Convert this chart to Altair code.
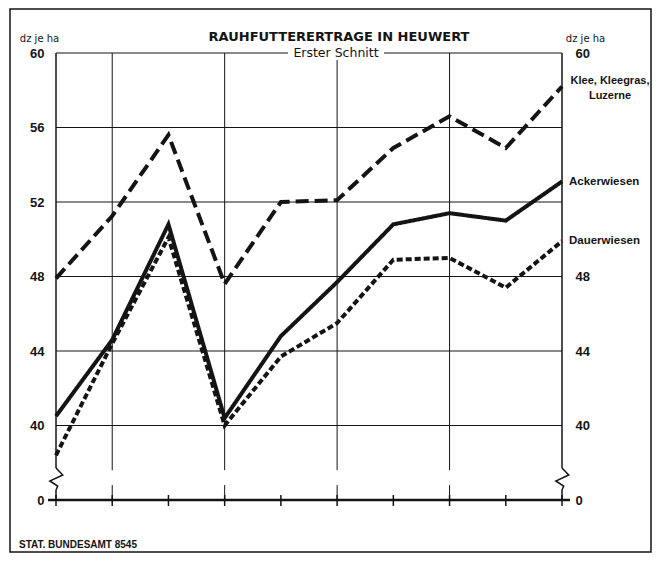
import altair as alt
import pandas as pd

# ---------------- data ----------------
years = [1959, 1960, 1961, 1962, 1963, 1964, 1965, 1966, 1967, 1968]
klee = [47.9, 51.25, 55.6, 47.6, 52.0, 52.1, 54.9, 56.6, 54.9, 58.2]
acker = [40.5, 44.6, 50.8, 40.4, 44.8, 47.7, 50.8, 51.4, 51.0, 53.1]
dauer = [38.4, 44.4, 50.1, 40.0, 43.7, 45.5, 48.9, 49.0, 47.4, 49.9]
series_names = ["Klee, Kleegras, Luzerne", "Ackerwiesen", "Dauerwiesen"]
label_texts = ["Klee, Kleegras,\nLuzerne", "Ackerwiesen", "Dauerwiesen"]

y_ticks_left = [36, 40, 44, 48, 52, 56, 60]   # 36 is the broken-axis "0"
y_ticks_right = [36, 40, 44, 48, 60]
grid_y = [40, 44, 48, 52, 56, 60]
grid_x = [1960, 1962, 1964, 1966]
edge_x = [1959, 1968]

title_text = "RAUHFUTTERERTRAGE IN HEUWERT"
subtitle_text = "Erster Schnitt"
unit_text = "dz je ha"
source_text = "STAT. BUNDESAMT 8545"

# axis-break geometry (decoration)
GAP_TOP, GAP_BOT = 37.6, 36.8
ZIG_DX = [0.0, 0.12, -0.11, 0.03, 0.0]
ZIG_Y = [37.72, 37.34, 37.02, 36.75, 36.54]

# ---------------- styling ----------------
W, H = 506, 447
SANS = "Liberation Sans, Arial, sans-serif"
WIDE = "DejaVu Sans, Verdana, sans-serif"
INK = "#141414"

yscale = alt.Scale(domain=[36, 60], nice=False, zero=False)
xscale = alt.Scale(domain=[1959, 1968], nice=False, zero=False)
zero_expr = "datum.value == 36 ? '0' : datum.label"

left_axis = alt.Axis(
    orient="left", values=y_ticks_left, labelExpr=zero_expr, domain=False, ticks=False,
    grid=False, labelFont=SANS, labelFontSize=13, labelFontWeight="bold",
    labelColor=INK, labelPadding=12, labelOverlap=False, labelFlush=False,
    title=unit_text, titleAngle=0, titleX=-17, titleY=-15, titleAlign="center",
    titleBaseline="middle", titleFont=WIDE, titleFontSize=10,
    titleFontWeight="normal", titleColor=INK,
)
right_axis = alt.Axis(
    orient="right", values=y_ticks_right, labelExpr=zero_expr, domain=False, ticks=False,
    grid=False, labelFont=SANS, labelFontSize=13, labelFontWeight="bold",
    labelColor=INK, labelPadding=13, labelOverlap=False, labelFlush=False,
    labelAlign="left",
    title=unit_text, titleAngle=0, titleX=23, titleY=-15, titleAlign="center",
    titleBaseline="middle", titleFont=WIDE, titleFontSize=10,
    titleFontWeight="normal", titleColor=INK,
)
x_axis = alt.Axis(
    values=years,
    labelExpr="datum.value == 1959 ? '1959' : substring(toString(datum.value), 2)",
    domain=False, ticks=False, grid=False, labelFont=SANS, labelFontSize=14,
    labelFontWeight="bold", labelColor=INK, labelPadding=12, labelOverlap=False,
    labelFlush=False, title=None,
)

# ---------------- tables ----------------
long = pd.DataFrame({
    "year": years * 3,
    "value": klee + acker + dauer,
    "series": [series_names[0]] * len(years) + [series_names[1]] * len(years)
    + [series_names[2]] * len(years),
})

vg_rows = []
for yr in grid_x:
    vg_rows.append({"year": yr, "y1": GAP_TOP, "y2": 60})
    vg_rows.append({"year": yr, "y1": 36, "y2": GAP_BOT})
vgrid_df = pd.DataFrame(vg_rows)

edge_rows = []
for yr in edge_x:
    edge_rows.append({"year": yr, "y1": ZIG_Y[0], "y2": 60})
    edge_rows.append({"year": yr, "y1": 36, "y2": ZIG_Y[-1]})
edge_df = pd.DataFrame(edge_rows)

zig_rows = []
for yr in edge_x:
    for i, (dx, yv) in enumerate(zip(ZIG_DX, ZIG_Y)):
        zig_rows.append({"side": str(yr), "i": i, "x": yr + dx, "y": yv})
zig_df = pd.DataFrame(zig_rows)

last_vals = [klee[-1], acker[-1], dauer[-1]]
lab_df = pd.DataFrame({"series": series_names, "text": label_texts, "value": last_vals})
one = pd.DataFrame({"k": [0]})

# ---------------- layers ----------------
hgrid = alt.Chart(pd.DataFrame({"v": grid_y})).mark_rule(color=INK, strokeWidth=1).encode(
    y=alt.Y("v:Q", scale=yscale, axis=left_axis),
    x=alt.value(0), x2=alt.value(W),
)

vgrid = alt.Chart(vgrid_df).mark_rule(color=INK, strokeWidth=1).encode(
    x=alt.X("year:Q", scale=xscale, axis=None),
    y=alt.Y("y1:Q", scale=yscale, axis=None), y2="y2:Q",
)

edges = alt.Chart(edge_df).mark_rule(color=INK, strokeWidth=1.5).encode(
    x=alt.X("year:Q", scale=xscale, axis=None),
    y=alt.Y("y1:Q", scale=yscale, axis=None), y2="y2:Q",
)

zig = alt.Chart(zig_df).mark_line(color=INK, strokeWidth=1.5, strokeJoin="miter").encode(
    x=alt.X("x:Q", scale=xscale, axis=None),
    y=alt.Y("y:Q", scale=yscale, axis=None),
    detail="side:N", order="i:Q",
)

bottom = alt.Chart(one).mark_rule(color=INK, strokeWidth=2.5).encode(
    x=alt.value(-8), x2=alt.value(W + 8), y=alt.value(H),
)

xticks = alt.Chart(pd.DataFrame({"year": years})).mark_rule(color=INK, strokeWidth=1.5).encode(
    x=alt.X("year:Q", scale=xscale, axis=x_axis),
    y=alt.value(H - 5), y2=alt.value(H + 6),
)

lines = alt.Chart(long).mark_line(
    color=INK, strokeWidth=4, strokeCap="butt", strokeJoin="miter"
).encode(
    x=alt.X("year:Q", scale=xscale, axis=None),
    y=alt.Y("value:Q", scale=yscale, axis=None),
    strokeDash=alt.StrokeDash(
        "series:N",
        scale=alt.Scale(domain=series_names, range=[[13, 6], [1, 0], [6, 3]]),
        legend=None,
    ),
    detail="series:N",
)

labels_main = alt.Chart(lab_df[lab_df["series"] != series_names[0]]).mark_text(
    align="left", baseline="middle", font=SANS, fontSize=11.5, fontWeight="bold", color=INK,
).encode(
    x=alt.value(W + 7),
    y=alt.Y("value:Q", scale=yscale, axis=right_axis),
    text="text:N",
)

labels_klee = alt.Chart(lab_df[lab_df["series"] == series_names[0]]).mark_text(
    align="center", baseline="middle", font=SANS, fontSize=11, fontWeight="bold",
    color=INK, lineBreak="\n", lineHeight=15, dy=-6,
).encode(
    x=alt.value(W + 48),
    y=alt.Y("value:Q", scale=yscale, axis=None),
    text="text:N",
)

sub_bg = alt.Chart(one).mark_rect(fill="white", stroke=None).encode(
    x=alt.value(232), x2=alt.value(328), y=alt.value(-7), y2=alt.value(7),
)
sub_txt = alt.Chart(one).mark_text(
    font=WIDE, fontSize=12.5, color=INK, align="center", baseline="middle", text=subtitle_text,
).encode(x=alt.value(280), y=alt.value(0))

title = alt.Chart(one).mark_text(
    font=WIDE, fontSize=13, fontWeight="bold", color=INK, align="center",
    baseline="middle", text=title_text,
).encode(x=alt.value(283), y=alt.value(-16))

source = alt.Chart(one).mark_text(
    font=SANS, fontSize=10, fontWeight="bold", color=INK, align="left",
    baseline="middle", text=source_text,
).encode(x=alt.value(-37), y=alt.value(492))

frame = alt.Chart(one).mark_rect(fill=None, stroke=INK, strokeWidth=1.5).encode(
    x=alt.value(-46), x2=alt.value(595), y=alt.value(-44), y2=alt.value(499),
)

chart = alt.layer(
    hgrid, vgrid, edges, zig, bottom, xticks, lines, labels_main, labels_klee,
    sub_bg, sub_txt, title, source, frame,
).resolve_axis(y="independent").properties(
    width=W, height=H,
    autosize=alt.AutoSizeParams(type="none"),
    padding={"left": 48, "top": 45, "right": 92, "bottom": 53},
    background="white",
).configure_view(stroke=None)

chart.save("out.html", embed_options={"renderer": "svg", "actions": False})
